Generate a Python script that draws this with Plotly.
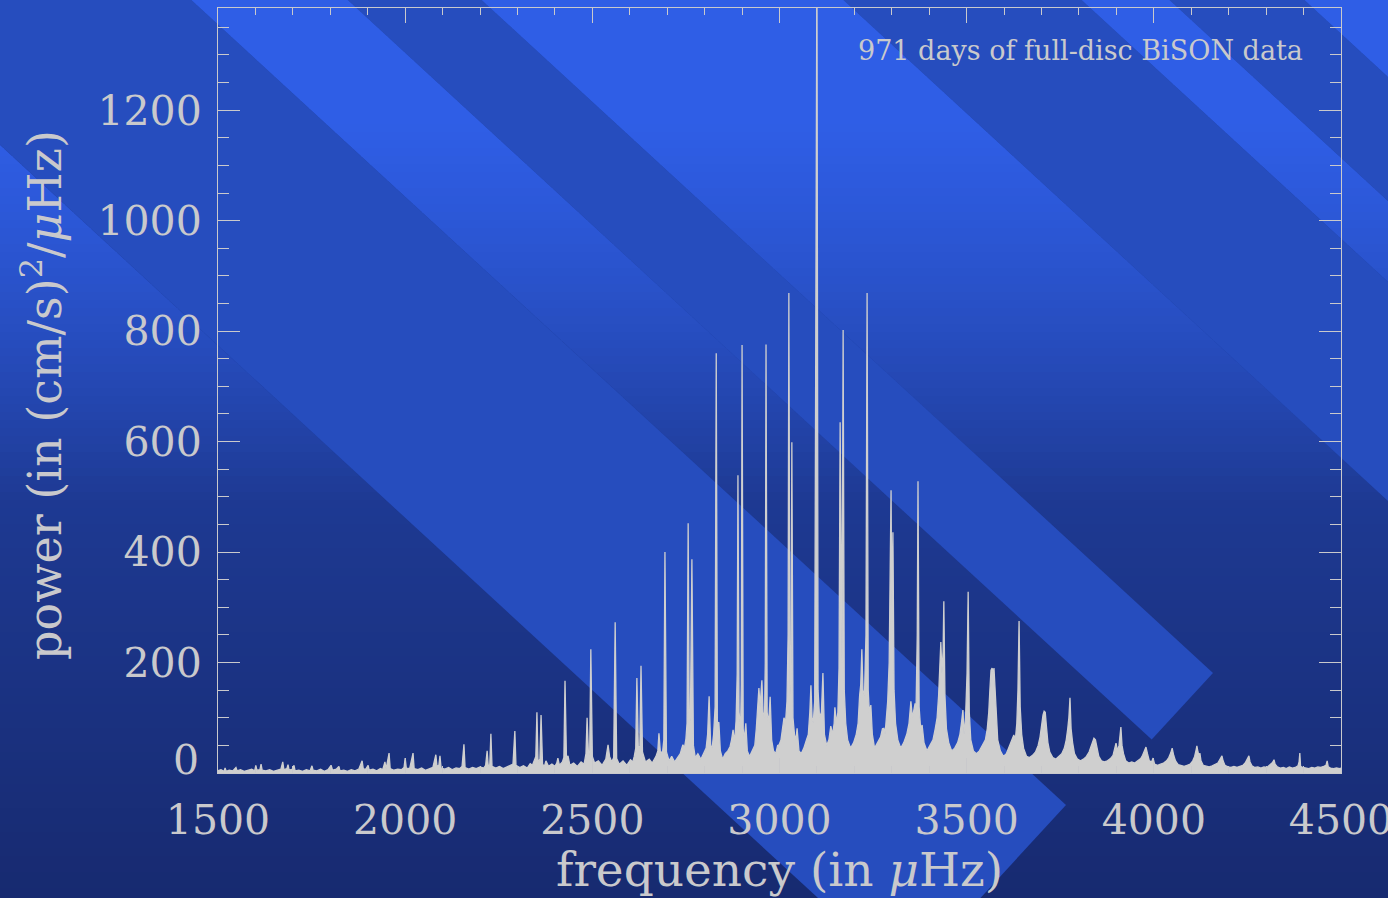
import plotly.graph_objects as go

# ---------------- data: (frequency in microHz, power in (cm/s)^2/microHz) ----------------
seg_1500_2300 = [
    (1500, 4), (1508, 6), (1516, 3), (1519, 9), (1522, 3), (1530, 5), (1540, 4), (1548, 10), (1551, 4),
    (1560, 6), (1570, 3), (1580, 5), (1590, 7), (1598, 4), (1601, 14), (1604, 5), (1612, 6), (1615, 16),
    (1618, 5), (1628, 4), (1638, 6), (1648, 3), (1658, 5), (1668, 7), (1673, 20), (1676, 6), (1684, 8),
    (1687, 15), (1690, 5), (1700, 7), (1703, 14), (1706, 4), (1716, 5), (1726, 3), (1736, 6), (1746, 4),
    (1751, 13), (1754, 5), (1764, 4), (1774, 7), (1784, 3), (1794, 6), (1802, 14), (1806, 5), (1816, 7),
    (1823, 12), (1826, 4), (1836, 5), (1846, 3), (1856, 6), (1866, 4), (1876, 7), (1885, 22), (1888, 8),
    (1894, 6), (1901, 14), (1904, 5), (1914, 7), (1924, 4), (1934, 8), (1940, 6), (1946, 20), (1949, 7),
    (1957, 36), (1960, 8), (1970, 5), (1980, 7), (1990, 6), (1997, 10), (2000, 27), (2003, 9), (2012, 8),
    (2021, 36), (2024, 8), (2034, 6), (2044, 9), (2054, 5), (2064, 8), (2074, 10), (2082, 33), (2085, 12),
    (2090, 14), (2093, 31), (2096, 9), (2106, 7), (2116, 10), (2126, 6), (2136, 9), (2146, 8), (2152, 12),
    (2157, 52), (2160, 10), (2170, 7), (2180, 10), (2190, 8), (2200, 11), (2210, 9), (2215, 14), (2219, 40),
    (2222, 12), (2226, 15), (2229, 71), (2232, 12), (2242, 9), (2252, 12), (2262, 8), (2272, 11), (2282, 13),
    (2288, 16), (2293, 76), (2296, 14),
]
seg_2300_2700 = [
    (2306, 10), (2316, 13), (2326, 9), (2334, 17), (2340, 14), (2345, 22), (2349, 30), (2352, 110), (2355, 20),
    (2360, 25), (2363, 105), (2367, 16), (2372, 12), (2376, 22), (2383, 12), (2392, 16), (2400, 12), (2405, 18),
    (2408, 27), (2412, 14), (2420, 20), (2424, 28), (2427, 167), (2431, 25), (2435, 31), (2440, 14), (2450, 18),
    (2460, 12), (2470, 20), (2478, 16), (2483, 35), (2486, 100), (2490, 28), (2493, 40), (2496, 224), (2500, 30),
    (2506, 18), (2516, 22), (2526, 14), (2536, 25), (2542, 51), (2546, 30), (2552, 20), (2557, 28), (2561, 273),
    (2565, 26), (2572, 16), (2582, 22), (2592, 14), (2602, 24), (2608, 20), (2612, 30), (2616, 45), (2619, 172),
    (2623, 40), (2627, 50), (2630, 194), (2634, 38), (2642, 20), (2652, 25), (2660, 18), (2670, 30), (2675, 40),
    (2678, 72), (2682, 35), (2688, 40), (2691, 60), (2694, 400), (2698, 38), (2705, 22),
]
seg_2700_3130 = [
    (2712, 30), (2720, 20), (2728, 28), (2735, 35), (2739, 45), (2742, 51), (2746, 45), (2750, 62), (2753, 90),
    (2756, 452), (2759, 80), (2762, 100), (2766, 387), (2770, 50), (2775, 28), (2782, 35), (2790, 25), (2797, 35),
    (2804, 45), (2808, 70), (2812, 139), (2816, 50), (2820, 45), (2824, 70), (2828, 120), (2831, 760), (2834, 90),
    (2838, 92), (2842, 40), (2848, 25), (2855, 35), (2862, 40), (2868, 48), (2872, 60), (2876, 78), (2880, 55),
    (2884, 95), (2887, 180), (2889, 539), (2892, 110), (2896, 80), (2898, 160), (2900, 775), (2903, 80),
    (2906, 60), (2910, 90), (2914, 40), (2920, 30), (2928, 40), (2934, 50), (2938, 80), (2941, 120), (2945, 154),
    (2948, 120), (2950, 150), (2953, 168), (2956, 110), (2960, 100), (2962, 200), (2964, 776), (2967, 110),
    (2971, 90), (2975, 138), (2979, 60), (2984, 40), (2990, 35), (2995, 50), (2999, 51), (3004, 60), (3008, 80),
    (3012, 100), (3016, 90), (3020, 130), (3023, 250), (3025, 869), (3028, 140), (3031, 200), (3033, 599),
    (3036, 100), (3040, 70), (3044, 60), (3047, 81), (3052, 40), (3058, 35), (3065, 45), (3072, 60), (3077, 70),
    (3081, 110), (3084, 159), (3087, 100), (3090, 90), (3094, 130), (3097, 925), (3100, 1500), (3103, 150),
    (3107, 100), (3112, 110), (3116, 181), (3120, 70), (3126, 50), (3132, 60),
]
seg_3130_3530 = [
    (3137, 85), (3142, 70), (3146, 90), (3148, 119), (3152, 90), (3156, 110), (3159, 190), (3162, 635), (3165, 250),
    (3167, 200), (3170, 802), (3173, 150), (3177, 90), (3182, 60), (3190, 45), (3198, 55), (3205, 70), (3210, 90),
    (3214, 140), (3217, 160), (3220, 224), (3223, 150), (3227, 140), (3231, 250), (3234, 869), (3237, 150),
    (3240, 110), (3244, 123), (3248, 70), (3254, 45), (3262, 55), (3270, 65), (3275, 80), (3279, 81), (3282, 70),
    (3285, 90), (3289, 130), (3293, 200), (3296, 345), (3298, 512), (3300, 300), (3303, 436), (3306, 150),
    (3310, 90), (3316, 60), (3324, 45), (3332, 55), (3340, 70), (3346, 90), (3351, 130), (3355, 100), (3359, 115),
    (3362, 125), (3365, 125), (3368, 250), (3370, 528), (3373, 120), (3377, 80), (3381, 87), (3386, 55),
    (3394, 40), (3402, 50), (3410, 60), (3416, 80), (3421, 100), (3425, 140), (3428, 180), (3431, 237),
    (3434, 180), (3437, 220), (3439, 311), (3442, 140), (3446, 80), (3452, 55), (3460, 40), (3468, 45),
    (3476, 55), (3482, 70), (3486, 90), (3490, 114), (3493, 70), (3497, 100), (3501, 180), (3504, 328),
    (3507, 110), (3511, 60), (3518, 40), (3526, 35),
]
seg_3530_4500 = [
    (3534, 40), (3542, 50), (3550, 60), (3555, 80), (3559, 110), (3562, 150), (3565, 186), (3568, 190),
    (3571, 180), (3573, 190), (3576, 150), (3579, 100), (3583, 60), (3590, 40), (3598, 30), (3606, 35),
    (3613, 45), (3618, 55), (3622, 62), (3626, 69), (3630, 60), (3634, 90), (3637, 150), (3640, 275),
    (3643, 120), (3647, 70), (3652, 45), (3660, 30), (3668, 28), (3676, 32), (3684, 38), (3691, 50), (3696, 65),
    (3700, 90), (3704, 105), (3707, 112), (3710, 110), (3713, 85), (3717, 55), (3722, 38), (3730, 28),
    (3738, 25), (3746, 30), (3754, 35), (3761, 45), (3766, 60), (3770, 80), (3773, 100), (3776, 136),
    (3779, 80), (3783, 55), (3788, 35), (3796, 25), (3804, 22), (3812, 25), (3820, 30), (3827, 38), (3832, 48),
    (3836, 58), (3840, 63), (3844, 60), (3848, 45), (3853, 30), (3860, 22), (3868, 20), (3876, 22), (3884, 26),
    (3891, 32), (3896, 45), (3899, 54), (3903, 40), (3907, 50), (3910, 70), (3912, 83), (3915, 50), (3919, 35),
    (3925, 22), (3933, 18), (3941, 20), (3949, 18), (3957, 22), (3965, 26), (3970, 32), (3975, 40), (3979, 47),
    (3983, 35), (3988, 22), (3994, 20), (3998, 27), (4002, 16), (4010, 14), (4018, 16), (4026, 18), (4034, 22),
    (4040, 28), (4045, 36), (4049, 45), (4053, 32), (4058, 22), (4065, 15), (4073, 13), (4081, 12), (4089, 14),
    (4097, 16), (4104, 22), (4109, 30), (4113, 42), (4115, 49), (4118, 38), (4121, 30), (4123, 36), (4126, 22),
    (4132, 14), (4140, 12), (4148, 11), (4156, 13), (4164, 15), (4171, 18), (4176, 24), (4180, 28), (4182, 31),
    (4185, 22), (4190, 14), (4198, 11), (4206, 10), (4214, 12), (4222, 10), (4230, 12), (4238, 14), (4244, 18),
    (4249, 26), (4254, 31), (4257, 20), (4262, 13), (4270, 10), (4278, 11), (4286, 9), (4294, 11), (4302, 10),
    (4308, 13), (4314, 17), (4318, 20), (4321, 24), (4324, 16), (4330, 11), (4338, 9), (4346, 10), (4354, 8),
    (4362, 11), (4370, 9), (4378, 10), (4385, 13), (4388, 20), (4390, 36), (4392, 12), (4398, 10), (4406, 9),
    (4414, 8), (4422, 10), (4430, 9), (4438, 11), (4446, 10), (4454, 12), (4460, 14), (4463, 22), (4466, 11),
    (4472, 9), (4480, 8), (4488, 9), (4496, 8), (4500, 9),
]

x_ticks = [1500, 2000, 2500, 3000, 3500, 4000, 4500]
y_ticks = [0, 200, 400, 600, 800, 1000, 1200]
x_title = "frequency (in <i>μ</i>Hz)"
y_title = "power (in (cm/s)<sup>2</sup>/<i>μ</i>Hz)"
note_text = "971 days of full-disc BiSON data"

segments = seg_1500_2300 + seg_2300_2700 + seg_2700_3130 + seg_3130_3530 + seg_3530_4500
freq = [f for f, p in segments]
power = [p for f, p in segments]

# ---------------- decorative background (page pixels -> paper coords) ----------------
W, H = 1388, 898
PL, PR, PT, PB = 218, 1341, 8, 773


def px(X):
    return (X - PL) / (PR - PL)


def py(Y):
    return (PB - Y) / (PB - PT)


def lerp(c1, c2, t):
    return tuple(round(a + (b - a) * t) for a, b in zip(c1, c2))


def rgb(c):
    return "rgb(%d,%d,%d)" % c


TOP = (38, 77, 190)
BOT = (23, 42, 112)
LIGHT = (47, 94, 230)


def base(y):
    return lerp(TOP, BOT, min(max(y / H, 0), 1))


def path_of(pts):
    return "M " + " L ".join(f"{px(x):.5f},{py(y):.5f}" for x, y in pts) + " Z"


shapes = []
for y0 in range(0, H, 8):
    shapes.append(dict(type="rect", xref="paper", yref="paper", x0=px(-5), x1=px(W + 5),
                       y0=py(y0 + 9), y1=py(y0), fillcolor=rgb(base(y0 + 4)),
                       line=dict(width=0), layer="below"))

S = 0.92


def xat(y, c):
    return (y - c) / S


A_bands = [(145, 3000), (-320, -176), (-776, -443), (-1076, -995), (-3000, -1200)]
for c1, c2 in A_bands:
    for y0 in range(-4, 560, 8):
        y1 = y0 + 9
        ym = y0 + 4
        t = min(max((ym - 120) / 380, 0), 1)
        col = lerp(LIGHT, base(ym), t)
        pts = [(xat(y0, c2), y0), (xat(y0, c1), y0), (xat(y1, c1), y1), (xat(y1, c2), y1)]
        shapes.append(dict(type="path", path=path_of(pts), xref="paper", yref="paper",
                           fillcolor=rgb(col), line=dict(width=0), layer="below"))

B_polys = [
    [(-5, -3), (188, -3), (1066, 805), (906, 979), (-5, 140)],
    [(344.6, -3), (478.3, -3), (1213, 673), (1151.7, 739.6)],
    [(840.2, -3), (1078.3, -3), (1400, 293), (1400, 512)],
    [(1166.3, -3), (1301.1, -3), (1400, 88), (1400, 212)],
]
for poly in B_polys:
    shapes.append(dict(type="path", path=path_of(poly), xref="paper", yref="paper",
                       fillcolor=rgb(TOP), line=dict(width=0), layer="below"))

GRAY = "#c9c9cc"
FONT = "DejaVu Serif"

fig = go.Figure(go.Scatter(x=freq, y=power, mode="lines",
                           line=dict(color="#cfcfcf", width=1.3),
                           fill="tozeroy", fillcolor="#cfcfcf", hoverinfo="skip"))

fig.update_layout(
    width=W, height=H,
    margin=dict(l=PL, r=W - PR, t=PT, b=H - PB, autoexpand=False),
    paper_bgcolor=rgb(BOT), plot_bgcolor="rgba(0,0,0,0)",
    showlegend=False, shapes=shapes,
    annotations=[
        dict(text=x_title, xref="paper", yref="paper", x=px(779), y=py(869),
             xanchor="center", yanchor="middle", showarrow=False,
             font=dict(family=FONT, size=47, color=GRAY)),
        dict(text=y_title, xref="paper", yref="paper", x=px(42), y=py(395),
             xanchor="center", yanchor="middle", showarrow=False, textangle=-90,
             font=dict(family=FONT, size=46, color=GRAY)),
        dict(text=note_text, xref="paper", yref="paper", x=px(1305), y=py(50),
             xanchor="right", yanchor="middle", showarrow=False,
             font=dict(family=FONT, size=27, color=GRAY)),
        dict(text=str(y_ticks[0]), xref="paper", yref="y", x=px(201), y=y_ticks[0] + 24,
             xanchor="right", yanchor="middle", showarrow=False,
             font=dict(family=FONT, size=41, color=GRAY)),
    ],
)

axis_common = dict(ticks="inside", tickcolor=GRAY, tickwidth=1, showline=True, linecolor=GRAY,
                   linewidth=1, mirror="allticks", showgrid=False, zeroline=False,
                   automargin=False,
                   tickfont=dict(family=FONT, size=41, color=GRAY))

fig.update_xaxes(range=[1500, 4500.01], tickmode="array", tickvals=x_ticks,
                 ticktext=[str(v) for v in x_ticks], ticklen=15,
                 ticklabelstandoff=11, ticklabeloverflow="allow",
                 minor=dict(ticks="inside", ticklen=7, dtick=100, tick0=1500, tickcolor=GRAY,
                            showgrid=False),
                 **axis_common)
fig.update_yaxes(range=[0, 1385], tickmode="array", tickvals=y_ticks,
                 ticktext=[""] + [str(v) for v in y_ticks[1:]], ticklen=22,
                 ticklabelstandoff=7, ticklabeloverflow="allow",
                 minor=dict(ticks="inside", ticklen=11, dtick=50, tick0=0, tickcolor=GRAY,
                            showgrid=False),
                 **axis_common)

fig.write_html("out.html")
